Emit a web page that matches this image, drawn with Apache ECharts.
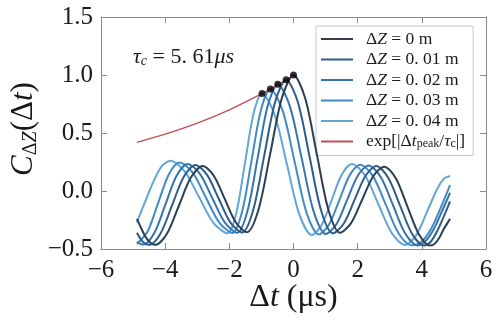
<!DOCTYPE html>
<html>
<head>
<meta charset="utf-8">
<script src="https://cdn.jsdelivr.net/npm/echarts@6/dist/echarts.min.js"></script>
<style>
    html, body { margin: 0; padding: 0; background: #fff; }
    #main { width: 498px; height: 321px; }
</style>
</head>
<body>
<div id="main"></div>
<script>
    // tick labels
    var xTicks = [-6, -4, -2, 0, 2, 4, 6];
    var yTicks = [-0.5, 0.0, 0.5, 1.0, 1.5];

    // curves, [dt (us), C]
    var curveDz0 = [[-4.88,-0.24],[-4.74,-0.325],[-4.6,-0.40],[-4.45,-0.449],[-4.31,-0.465],[-3.94,-0.366],[-3.57,-0.125],[-3.2,0.116],
        [-2.83,0.215],[-2.485,0.132],[-2.14,-0.07],[-1.795,-0.272],[-1.45,-0.355],[-1.0875,-0.157],[-0.725,0.3225],[-0.3625,0.802],
        [0,1.0],[0.3625,0.801],[0.725,0.32],[1.0875,-0.161],[1.45,-0.36],[1.795,-0.277],[2.14,-0.075],[2.485,0.127],
        [2.83,0.21],[3.1875,0.11],[3.545,-0.13],[3.9025,-0.37],[4.26,-0.47],[4.4,-0.454],[4.54,-0.405],[4.68,-0.33],[4.88,-0.24]];
    var curveDz1 = [[-4.88,-0.36],[-4.69,-0.44],[-4.5,-0.465],[-4.14,-0.364],[-3.78,-0.12],[-3.42,0.123],
        [-3.06,0.224],[-2.695,0.139],[-2.33,-0.067],[-1.965,-0.273],[-1.6,-0.358],[-1.2575,-0.166],[-0.915,0.301],[-0.5725,0.768],
        [-0.23,0.96],[0.135,0.767],[0.5,0.2975],[0.865,-0.172],[1.23,-0.365],[1.5675,-0.28],[1.905,-0.075],[2.2425,0.13],
        [2.58,0.215],[2.9525,0.115],[3.325,-0.128],[3.6975,-0.37],[4.07,-0.47],[4.27,-0.44],[4.47,-0.35],[4.67,-0.23],[4.88,-0.09]];
    var curveDz2 = [[-4.88,-0.44],[-4.68,-0.462],[-4.335,-0.36],[-3.99,-0.115],[-3.645,0.131],
        [-3.30,0.233],[-2.9125,0.146],[-2.525,-0.064],[-2.1375,-0.273],[-1.75,-0.36],[-1.435,-0.173],[-1.12,0.28],[-0.805,0.733],
        [-0.49,0.92],[-0.115,0.732],[0.26,0.275],[0.635,-0.182],[1.01,-0.37],[1.3425,-0.284],[1.675,-0.075],[2.0075,0.134],
        [2.34,0.22],[2.7225,0.119],[3.105,-0.125],[3.4875,-0.369],[3.87,-0.47],[4.12,-0.43],[4.37,-0.33],[4.62,-0.18],[4.88,-0.015]];
    var curveDz3 = [[-4.88,-0.455],[-4.5475,-0.349],[-4.215,-0.10],[-3.8825,0.144],
        [-3.55,0.245],[-3.1375,0.156],[-2.725,-0.059],[-2.3125,-0.273],[-1.9,-0.362],[-1.605,-0.181],[-1.31,0.259],[-1.015,0.699],
        [-0.72,0.88],[-0.3425,0.697],[0.035,0.2525],[0.4125,-0.192],[0.79,-0.375],[1.1125,-0.287],[1.435,-0.074],[1.7575,0.139],
        [2.08,0.227],[2.48,0.126],[2.88,-0.12],[3.28,-0.367],[3.68,-0.468],[3.98,-0.44],[4.28,-0.33],[4.58,-0.15],[4.88,0.05]];
    var curveDz4 = [[-4.88,-0.27],[-4.62,-0.09],[-4.36,0.085],[-4.1,0.216],
        [-3.84,0.26],[-3.3925,0.169],[-2.945,-0.0525],[-2.4975,-0.274],[-2.05,-0.365],[-1.7825,-0.189],[-1.515,0.2375],[-1.2475,0.664],
        [-0.98,0.84],[-0.5925,0.662],[-0.205,0.23],[0.1825,-0.202],[0.57,-0.38],[0.8825,-0.29],[1.195,-0.0735],[1.5075,0.143],
        [1.82,0.233],[2.235,0.131],[2.65,-0.116],[3.065,-0.363],[3.48,-0.465],[3.83,-0.378],[4.18,-0.1675],[4.5,0.03],[4.7,0.11],[4.88,0.13]];
    var envelope = [[-4.88,0.42],[-4,0.49],[-3,0.585],[-2,0.70],[-1,0.837],[-0.5,0.915],[0,1.0]];
    var peaks = [[0,1.0],[-0.23,0.96],[-0.49,0.92],[-0.72,0.88],[-0.98,0.84]];

    var seriesNames = ['dz0', 'dz1', 'dz2', 'dz3', 'dz4', 'env'];
    var legendLabels = {
        dz0: 'ΔZ = 0 m',
        dz1: 'ΔZ = 0. 01 m',
        dz2: 'ΔZ = 0. 02 m',
        dz3: 'ΔZ = 0. 03 m',
        dz4: 'ΔZ = 0. 04 m'
    };
    var colors = ['#2c3f52', '#2d5d88', '#3575ae', '#418cc7', '#62a6d8', '#c44e52'];

    var serif = 'Liberation Serif';
    var ink = '#1a1a1a';
    var axisGray = '#8a8a8a';
    var minus = function (s) { return s.replace('-', '\u2212'); };

    function frameAxis(pos, isX, showLabel) {
        return {
            type: 'value',
            position: pos,
            min: isX ? xTicks[0] : yTicks[0],
            max: isX ? xTicks[xTicks.length - 1] : yTicks[yTicks.length - 1],
            interval: isX ? 2 : 0.5,
            axisLine: { show: true, onZero: false, lineStyle: { color: axisGray, width: 1 } },
            axisTick: { show: true, inside: true, length: 6, lineStyle: { color: axisGray, width: 1 } },
            splitLine: { show: false },
            axisLabel: {
                show: showLabel,
                fontFamily: serif,
                fontSize: 25,
                color: ink,
                margin: isX ? 9 : 8,
                formatter: isX ? function (v) { return minus(String(v)); }
                               : function (v) { return minus(v.toFixed(1)); }
            }
        };
    }

    var lineSeries = [curveDz0, curveDz1, curveDz2, curveDz3, curveDz4].map(function (d, i) {
        return {
            name: seriesNames[i],
            type: 'line',
            data: d,
            smooth: 0.3,
            symbol: 'none',
            lineStyle: { width: 2, color: colors[i] },
            itemStyle: { color: colors[i] },
            z: 3 + (4 - i)
        };
    });

    var myChart = echarts.init(document.getElementById('main'));
    var option = {
        animation: false,
        backgroundColor: '#fff',
        grid: { left: 101, right: 12, top: 17, bottom: 72 },
        xAxis: [frameAxis('bottom', true, true), frameAxis('top', true, false)],
        yAxis: [frameAxis('left', false, true), frameAxis('right', false, false)],
        legend: {
            orient: 'vertical',
            left: 316,
            top: 26,
            itemWidth: 32,
            itemHeight: 2,
            itemGap: 2.5,
            padding: [4, 8, 5, 5],
            borderColor: '#c8c8c8',
            borderWidth: 1,
            backgroundColor: '#fff',
            icon: 'rect',
            data: seriesNames,
            formatter: function (name) {
                if (name === 'env') {
                    return 'exp[|Δ{i|t}{sub|peak}/{i|τ}{sub|c}|]';
                }
                return legendLabels[name].replace('Z', '{i|Z}');
            },
            textStyle: {
                fontFamily: serif,
                fontSize: 17.5,
                color: ink,
                lineHeight: 16.5,
                padding: [0, 0, 0, 8],
                rich: {
                    i: { fontFamily: serif, fontStyle: 'italic', fontSize: 17.5, color: ink },
                    sub: { fontFamily: serif, fontSize: 12, color: ink, verticalAlign: 'bottom', padding: [7, 0, 0, 0] }
                }
            }
        },
        graphic: [
            {
                type: 'text', left: 133, top: 46,
                style: {
                    text: '{i|τ}{sub|c}{n| = 5. 61}{i|μs}',
                    rich: {
                        i: { fontFamily: serif, fontStyle: 'italic', fontSize: 22, fill: ink },
                        n: { fontFamily: serif, fontSize: 22, fill: ink },
                        sub: { fontFamily: serif, fontStyle: 'italic', fontSize: 14, fill: ink, padding: [9, 0, 0, 0] }
                    }
                }
            },
            {
                type: 'text', x: 293.5, y: 298,
                style: {
                    text: 'Δ{i|t} (μs)',
                    font: '32px ' + serif,
                    fill: ink,
                    align: 'center',
                    verticalAlign: 'middle',
                    rich: { i: { fontFamily: serif, fontStyle: 'italic', fontSize: 32, fill: ink } }
                }
            },
            {
                type: 'text', x: 24, y: 129, rotation: Math.PI / 2,
                style: {
                    text: '{i|C}{s|Δ}{si|Z}{n|(Δ}{i|t}{n|)}',
                    align: 'center',
                    verticalAlign: 'middle',
                    rich: {
                        i: { fontFamily: serif, fontStyle: 'italic', fontSize: 31, fill: ink },
                        n: { fontFamily: serif, fontSize: 31, fill: ink },
                        s: { fontFamily: serif, fontSize: 20, fill: ink, padding: [14, 0, 0, 0] },
                        si: { fontFamily: serif, fontStyle: 'italic', fontSize: 20, fill: ink, padding: [14, 0, 0, 0] }
                    }
                }
            }
        ],
        series: lineSeries.concat([
            {
                name: 'env',
                type: 'line',
                data: envelope,
                smooth: 0.3,
                symbol: 'none',
                lineStyle: { width: 1.3, color: colors[5] },
                itemStyle: { color: colors[5] },
                z: 9
            },
            {
                name: 'peaks',
                type: 'scatter',
                data: peaks,
                symbolSize: 7,
                itemStyle: { color: '#000' },
                z: 10
            }
        ])
    };
    myChart.setOption(option);
</script>
</body>
</html>
